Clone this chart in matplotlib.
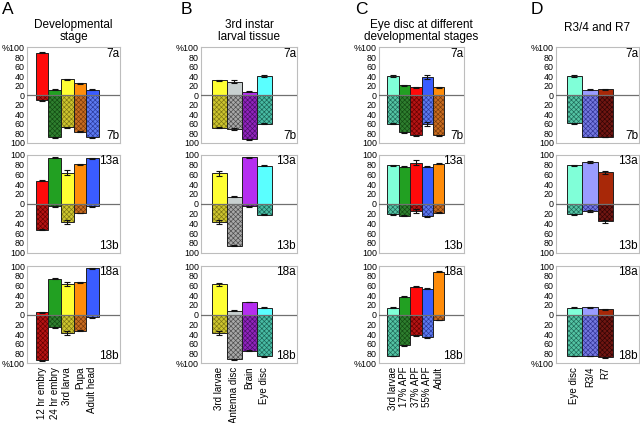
import matplotlib
matplotlib.use('Agg')
import matplotlib.pyplot as plt
import numpy as np

plt.rcParams['font.family'] = ['Liberation Sans', 'DejaVu Sans']
plt.rcParams['hatch.linewidth'] = 0.45

W, H = 640, 423

# ---------------- data ----------------
cats_A = ["12 hr embry", "24 hr embry", "3rd larva", "Pupa", "Adult head"]
A7a = [89, 11, 33, 25, 11]
A7b = [11, 89, 68, 77, 89]
A13a = [47, 94, 63, 80, 93]
A13b = [53, 5, 37, 19, 5]
A18a = [5, 74, 63, 67, 95]
A18b = [94, 26, 37, 33, 5]
A7a_err = [1, 1, 1, 1, 1]
A7b_err = [1, 1, 1, 1, 1]
A13a_err = [1, 1, 5, 1, 1]
A13b_err = [1, 1, 4, 1, 1]
A18a_err = [1, 1, 4, 1, 1]
A18b_err = [1, 1, 4, 1, 1]

cats_B = ["3rd larvae", "Antenna disc", "Brain", "Eye disc"]
B7a = [31, 28, 7, 40]
B7b = [69, 72, 93, 60]
B13a = [62, 14, 95, 77]
B13b = [38, 86, 5, 23]
B18a = [62, 8, 26, 14]
B18b = [38, 92, 74, 86]
B7a_err = [1, 3, 1, 2]
B7b_err = [1, 2, 1, 1]
B13a_err = [5, 1, 1, 1]
B13b_err = [4, 1, 1, 1]
B18a_err = [4, 1, 1, 1]
B18b_err = [4, 1, 1, 1]

cats_C = ["3rd larvae", "17% APF", "37% APF", "55% APF", "Adult"]
C7a = [40, 21, 16, 38, 16]
C7b = [60, 78, 84, 61, 84]
C13a = [78, 75, 84, 75, 82]
C13b = [22, 25, 15, 26, 18]
C18a = [14, 37, 57, 53, 88]
C18b = [85, 63, 42, 46, 11]
C7a_err = [2, 1, 1, 4, 1]
C7b_err = [1, 1, 1, 4, 1]
C13a_err = [1, 1, 5, 1, 1]
C13b_err = [1, 1, 4, 1, 1]
C18a_err = [1, 1, 1, 1, 1]
C18b_err = [1, 1, 1, 1, 1]

cats_D = ["Eye disc", "R3/4", "R7"]
D7a = [40, 11, 12]
D7b = [59, 88, 88]
D13a = [78, 85, 64]
D13b = [22, 15, 36]
D18a = [14, 15, 11]
D18b = [85, 85, 88]
D7a_err = [2, 1, 1]
D7b_err = [1, 1, 1]
D13a_err = [1, 2, 3]
D13b_err = [1, 2, 3]
D18a_err = [1, 1, 1]
D18b_err = [1, 1, 1]

# colours: (top face, bottom face, bottom hatch)
RED = ("#ff0a0a", "#b41414", "#640000")
GREEN = ("#22a022", "#2f7f2f", "#124a12")
YELLOW = ("#ffff33", "#cdc52e", "#7a7414")
ORANGE = ("#ff8c0a", "#c86c20", "#763a0c")
BLUE = ("#3a5cff", "#5c7af0", "#2a3898")
GREY = ("#c8d0d0", "#a8a8a8", "#4a4a4a")
PURPLE = ("#b52ef0", "#9024bc", "#480e66")
CYAN = ("#5affff", "#48bca4", "#1a6254")
AQUA = ("#80ffd8", "#54c4a4", "#1e6656")
PERI = ("#9a9cff", "#7478e0", "#303294")
DRED = ("#a82808", "#701612", "#300404")

cols_A = [RED, GREEN, YELLOW, ORANGE, BLUE]
cols_B = [YELLOW, GREY, PURPLE, CYAN]
cols_C = [AQUA, GREEN, RED, BLUE, ORANGE]
cols_D = [AQUA, PERI, DRED]

panels = [
    ("A", "Developmental\nstage", cats_A, cols_A,
     [(A7a, A7a_err, A7b, A7b_err, "7"), (A13a, A13a_err, A13b, A13b_err, "13"),
      (A18a, A18a_err, A18b, A18b_err, "18")]),
    ("B", "3rd instar\nlarval tissue", cats_B, cols_B,
     [(B7a, B7a_err, B7b, B7b_err, "7"), (B13a, B13a_err, B13b, B13b_err, "13"),
      (B18a, B18a_err, B18b, B18b_err, "18")]),
    ("C", "Eye disc at different\ndevelopmental stages", cats_C, cols_C,
     [(C7a, C7a_err, C7b, C7b_err, "7"), (C13a, C13a_err, C13b, C13b_err, "13"),
      (C18a, C18a_err, C18b, C18b_err, "18")]),
    ("D", "R3/4 and R7", cats_D, cols_D,
     [(D7a, D7a_err, D7b, D7b_err, "7"), (D13a, D13a_err, D13b, D13b_err, "13"),
      (D18a, D18a_err, D18b, D18b_err, "18")]),
]

# ---------------- layout (pixels) ----------------
col_x = [(27, 120), (201, 297), (379, 464), (556, 639)]
row_y = [(47.5, 142.7), (154.7, 252.7), (266, 363.3)]
letter_x = [2, 181, 355, 531]
title_top = [19, 19, 19, 22]

fig = plt.figure(figsize=(W / 100, H / 100), dpi=100)

for ci, (letter, title, cats, cols, rows) in enumerate(panels):
    x0, x1 = col_x[ci]
    n = len(cats)
    xs = np.arange(n)
    for ri, (up, uerr, dn, derr, lab) in enumerate(rows):
        y0, y1 = row_y[ri]
        ax = fig.add_axes([x0 / W, 1 - y1 / H, (x1 - x0) / W, (y1 - y0) / H])
        tops = [c[0] for c in cols]
        bfaces = [c[1] for c in cols]
        bhatch = [c[2] for c in cols]
        neg = [-v for v in dn]
        ax.bar(xs, up, width=1.0, color=tops, edgecolor="#202020", linewidth=0.7, zorder=2)
        ax.bar(xs, neg, width=1.0, color=bfaces, edgecolor=bhatch, linewidth=0,
               hatch="xxxxxxx", zorder=2)
        ax.bar(xs, neg, width=1.0, fill=False, edgecolor="#202020", linewidth=0.7, zorder=3)
        ax.errorbar(xs, up, yerr=uerr, fmt="none", ecolor="#111111", elinewidth=0.8,
                    capsize=2, capthick=0.8, zorder=4)
        ax.errorbar(xs, neg, yerr=derr, fmt="none", ecolor="#111111", elinewidth=0.8,
                    capsize=2, capthick=0.8, zorder=4)
        ax.axhline(0, color="#707070", lw=0.9, zorder=5)
        ax.set_xlim(-1.2, n - 1 + 2.2)
        ax.set_ylim(-100, 100)
        ticks = np.arange(-100, 101, 20)
        labels = [str(abs(t)) for t in ticks]
        if ri == 0:
            labels[-1] = "%100"
        if ri == 2:
            labels[0] = "%100"
        ax.set_yticks(ticks)
        ax.set_yticklabels(labels, fontsize=6.4)
        ax.tick_params(axis="y", length=0, pad=1.5)
        if ri == 2:
            ax.set_xticks(xs)
            ax.set_xticklabels(cats, rotation=90, fontsize=7.0)
            ax.tick_params(axis="x", length=0, pad=2.5)
        else:
            ax.set_xticks([])
        for sp in ax.spines.values():
            sp.set_color("#bdbdbd")
            sp.set_linewidth(0.8)
        ax.text(0.99, 0.995, lab + "a", transform=ax.transAxes, ha="right", va="top",
                fontsize=8.5, zorder=6)
        ax.text(0.99, 0.01, lab + "b", transform=ax.transAxes, ha="right", va="bottom",
                fontsize=8.5, zorder=6)
    fig.text(((x0 + x1) / 2) / W, 1 - title_top[ci] / H, title, ha="center", va="top",
             fontsize=8.5, linespacing=1.0)
    fig.text(letter_x[ci] / W, 1 - 2 / H, letter, ha="left", va="top", fontsize=12.5)

fig.savefig("out.png", dpi=100)
